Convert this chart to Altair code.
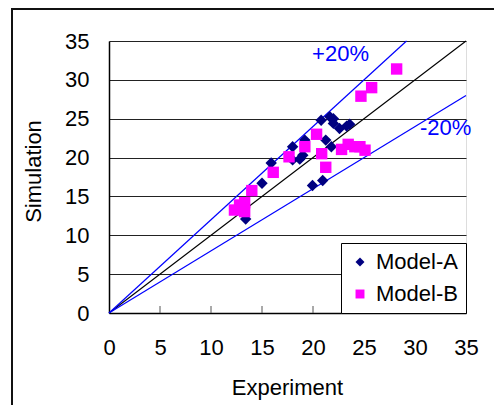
import altair as alt
import pandas as pd

# Model-A (diamonds)
a_exp = [13.4, 15.0, 15.9, 18.0, 18.0, 18.7, 19.0, 19.2, 19.95, 20.8, 20.95, 21.25, 21.65, 22.0, 21.8, 22.0, 22.6, 23.3, 23.6]
a_sim = [12.1, 16.7, 19.3, 21.4, 19.7, 19.8, 20.3, 22.25, 16.4, 24.8, 17.05, 22.25, 25.25, 25.0, 21.4, 24.4, 23.75, 24.05, 24.3]
# Model-B (squares)
b_exp = [12.3, 12.8, 13.3, 13.3, 14.0, 16.1, 17.65, 19.2, 20.35, 20.85, 21.25, 22.8, 23.45, 24.1, 24.6, 25.1, 24.7, 25.75, 28.2]
b_sim = [13.25, 13.9, 14.2, 13.05, 15.75, 18.1, 20.1, 21.4, 23.0, 20.5, 18.75, 21.05, 21.7, 21.4, 21.4, 20.95, 27.9, 29.0, 31.4]

models = ["Model-A", "Model-B"]
model_colors = ["#000080", "#FF00FF"]
model_shapes = ["diamond", "square"]

axis_ticks = [0, 5, 10, 15, 20, 25, 30, 35]
inner_ticks = [5, 10, 15, 20, 25, 30]

# reference lines
line_names = ["1:1", "+20%", "-20%"]
line_x_end = [35, 35 / 1.2, 35]
line_y_end = [35, 35, 28]

label_text = ["+20%", "-20%"]
label_x = [22.7, 33.0]
label_y = [33.3, 23.8]

FONT = "Liberation Sans"
FS = 22

pts = pd.DataFrame({
    "Experiment": a_exp + b_exp,
    "Simulation": a_sim + b_sim,
    "model": ["Model-A"] * len(a_exp) + ["Model-B"] * len(b_exp),
})

rows = []
for n, xe, ye in zip(line_names, line_x_end, line_y_end):
    rows.append({"line": n, "Experiment": 0, "Simulation": 0})
    rows.append({"line": n, "Experiment": xe, "Simulation": ye})
lines = pd.DataFrame(rows)

labels = pd.DataFrame({"t": label_text, "Experiment": label_x, "Simulation": label_y})
ticks = pd.DataFrame({"Experiment": inner_ticks})

xscale = alt.Scale(domain=[0, 35], nice=False)
yscale = alt.Scale(domain=[0, 35], nice=False)

xaxis = alt.Axis(values=axis_ticks, grid=False, tickSize=0, labelPadding=24,
                 labelFlush=False, labelOverlap=False,
                 labelFontSize=FS, labelFont=FONT, labelColor="#000",
                 title="Experiment", titleFontSize=FS, titleFont=FONT, titleFontWeight="normal",
                 titleColor="#000", titleX=178, titleY=81, titleBaseline="alphabetic",
                 domainColor="#000", domainWidth=1.5)
yaxis = alt.Axis(values=axis_ticks, tickCount=8, grid=True, gridColor="#222", gridWidth=1, tickSize=0,
                 labelFlush=False, labelOverlap=False,
                 labelPadding=20, labelFontSize=FS, labelFont=FONT, labelColor="#000",
                 title="Simulation", titleFontSize=FS, titleFont=FONT, titleFontWeight="normal",
                 titleColor="#000", titleX=-76, titleY=130, titleAngle=-90,
                 titleBaseline="middle", titleAlign="center",
                 domainColor="#000", domainWidth=1.5)

X = alt.X("Experiment:Q", scale=xscale, axis=xaxis)
Y = alt.Y("Simulation:Q", scale=yscale, axis=yaxis)

one = alt.Chart(lines).transform_filter(alt.datum.line == "1:1").mark_line(
    color="#000", strokeWidth=1.2).encode(x=X, y=Y)
pm = alt.Chart(lines).transform_filter(alt.datum.line != "1:1").mark_line(
    color="#0000FF", strokeWidth=1.2).encode(x=X, y=Y, detail="line:N")

tk = alt.Chart(ticks).mark_rule(color="#555", strokeWidth=1).encode(
    x=X, y=alt.value(272), y2=alt.value(265))

leg = alt.Legend(orient="none", legendX=232, legendY=202, title=None,
                 strokeColor="#000", fillColor="#fff", padding=8,
                 labelFontSize=FS, labelFont=FONT, labelColor="#000",
                 symbolSize=80, rowPadding=10, labelOffset=5, symbolStrokeWidth=0)

points = alt.Chart(pts).mark_point(filled=True, size=130, opacity=1).encode(
    x=X, y=Y,
    color=alt.Color("model:N", scale=alt.Scale(domain=models, range=model_colors), legend=leg),
    shape=alt.Shape("model:N", scale=alt.Scale(domain=models, range=model_shapes), legend=leg),
)

txt = alt.Chart(labels).mark_text(fontSize=FS, font=FONT, color="#0000FF", align="center",
                                  baseline="middle").encode(x=X, y=Y, text="t:N")

frame_v = alt.Chart(ticks).mark_rule(color="#111", strokeWidth=2).encode(
    x=alt.value(-97), y=alt.value(-32), y2=alt.value(400))
frame_h = alt.Chart(ticks).mark_rule(color="#111", strokeWidth=2).encode(
    x=alt.value(-98), x2=alt.value(400), y=alt.value(-32))

chart = alt.layer(one, pm, tk, points, txt, frame_v, frame_h).properties(
    width=357, height=272,
    autosize=alt.AutoSizeParams(type="none"),
    padding={"left": 109, "top": 41, "right": 28, "bottom": 92},
).configure_view(stroke="#000", strokeWidth=1.2).configure(background="#fff")

chart.save("out.html", embed_options={"renderer": "svg", "actions": False})
